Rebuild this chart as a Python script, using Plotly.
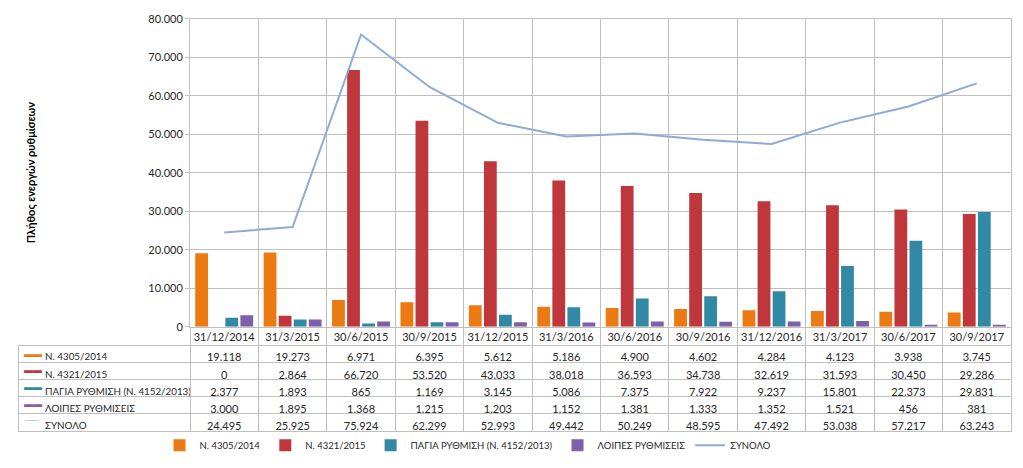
import plotly.graph_objects as go

# reporting dates
dates = ["31/12/2014", "31/3/2015", "30/6/2015", "30/9/2015", "31/12/2015", "31/3/2016",
         "30/6/2016", "30/9/2016", "31/12/2016", "31/3/2017", "30/6/2017", "30/9/2017"]

n4305 = [19118, 19273, 6971, 6395, 5612, 5186, 4900, 4602, 4284, 4123, 3938, 3745]
n4321 = [0, 2864, 66720, 53520, 43033, 38018, 36593, 34738, 32619, 31593, 30450, 29286]
pagia = [2377, 1893, 865, 1169, 3145, 5086, 7375, 7922, 9237, 15801, 22373, 29831]
loipes = [3000, 1895, 1368, 1215, 1203, 1152, 1381, 1333, 1352, 1521, 456, 381]
synolo = [24495, 25925, 75924, 62299, 52993, 49442, 50249, 48595, 47492, 53038, 57217, 63243]

names = ["Ν. 4305/2014", "Ν. 4321/2015", "ΠΑΓΙΑ ΡΥΘΜΙΣΗ (Ν. 4152/2013)", "ΛΟΙΠΕΣ ΡΥΘΜΙΣΕΙΣ", "ΣΥΝΟΛΟ"]
colors = ["#EC7A12", "#C0373B", "#3289A6", "#7D60A8", "#8EAAD6"]

# page has an 8px body margin, so the figure is a bit smaller than the window
OFF = 8
W, H = 1023 - 2 * OFF, 468 - 2 * OFF
FONT = "Lato"
GRID = "#BFBFBF"
ROW_H = 17.2
TABLE_TOP = 351


def px(p):
    return (p - OFF) / W


def py(p):
    return 1 - (p - OFF) / H


def fmt(v):
    return f"{v:,}".replace(",", ".")


fig = go.Figure()
for name, vals, col in zip(names[:4], [n4305, n4321, pagia, loipes], colors[:4]):
    fig.add_trace(go.Bar(x=dates, y=vals, name=name, marker_color=col,
                         marker_line=dict(color=col, width=0)))
fig.add_trace(go.Scatter(x=dates, y=synolo, name=names[4], mode="lines",
                         line=dict(color=colors[4], width=2)))

# data table under the chart: one table for the grid, one on top for the text
series = [n4305, n4321, pagia, loipes, synolo]
rows = [[n.replace(" ", "\u00a0")] + [fmt(v) for v in vals] for n, vals in zip(names, series)]
columns = [list(c) for c in zip(*rows)]
blank = [[""] * 5 for _ in columns]
# domain is a little taller than the five rows so nothing gets clipped
table_y = [py(TABLE_TOP + 5 * ROW_H + 10), py(TABLE_TOP)]

fig.add_trace(go.Table(
    domain=dict(x=[px(18), px(1011)], y=table_y),
    columnwidth=[172] + [68.4] * 12,
    header=dict(values=[b[0] for b in blank], height=ROW_H, fill_color="white",
                line=dict(color=GRID, width=1)),
    cells=dict(values=[b[1:] for b in blank], height=ROW_H, fill_color="white",
               line=dict(color=GRID, width=1)),
))

cell_font = dict(family=FONT, size=[9.8] + [11] * 12, color="#262626")
clear = "rgba(0,0,0,0)"
fig.add_trace(go.Table(
    domain=dict(x=[px(37), px(1011)], y=table_y),
    columnwidth=[153] + [68.4] * 12,
    header=dict(values=[c[0] for c in columns], height=ROW_H, fill_color=clear,
                line=dict(color=clear, width=0), align=["left"] + ["center"] * 12,
                font=cell_font),
    cells=dict(values=[c[1:] for c in columns], height=ROW_H, fill_color=clear,
               line=dict(color=clear, width=0), align=["left"] + ["center"] * 12,
               font=cell_font),
))

# colour keys in the table's first column
for i, col in enumerate(colors):
    fig.add_annotation(text="▬▬" if i < 4 else "──", xref="paper", yref="paper",
                       x=px(22), xanchor="left",
                       y=py(TABLE_TOP + ROW_H * (i + 0.5)), yanchor="middle",
                       showarrow=False, font=dict(size=9, color=col))

fig.add_annotation(text="<b>Πλήθος ενεργών ρυθμίσεων</b>", textangle=-90,
                   xref="paper", yref="paper", x=px(22), y=py(172),
                   showarrow=False, font=dict(family=FONT, size=11, color="black"))

fig.update_layout(
    width=W, height=H, margin=dict(l=0, r=0, t=0, b=0),
    paper_bgcolor="white", plot_bgcolor="white",
    separators=",.",
    barmode="group", bargap=0.12, bargroupgap=0.15,
    font=dict(family=FONT, size=11, color="#262626"),
    legend=dict(orientation="h", x=px(468), xanchor="center", y=py(455), yanchor="middle",
                font=dict(family=FONT, size=9.5), itemwidth=30, tracegroupgap=0,
                bgcolor=clear),
    xaxis=dict(domain=[px(190), px(1011)], type="category", tickson="boundaries",
               showgrid=True, gridcolor=GRID, ticks="outside", ticklen=19, tickcolor=GRID,
               tickangle=0, showline=True, linecolor=GRID,
               mirror=True, tickfont=dict(size=11)),
    yaxis=dict(domain=[py(332), py(12)], range=[0, 80000], dtick=10000,
               tickformat=",d", showgrid=True, gridcolor=GRID, zeroline=False,
               showline=True, linecolor=GRID, mirror=True, ticks="outside",
               ticklen=4, tickcolor=GRID, tickfont=dict(size=11),
               ticklabeloverflow="allow"),
)

fig.write_html("out.html")
